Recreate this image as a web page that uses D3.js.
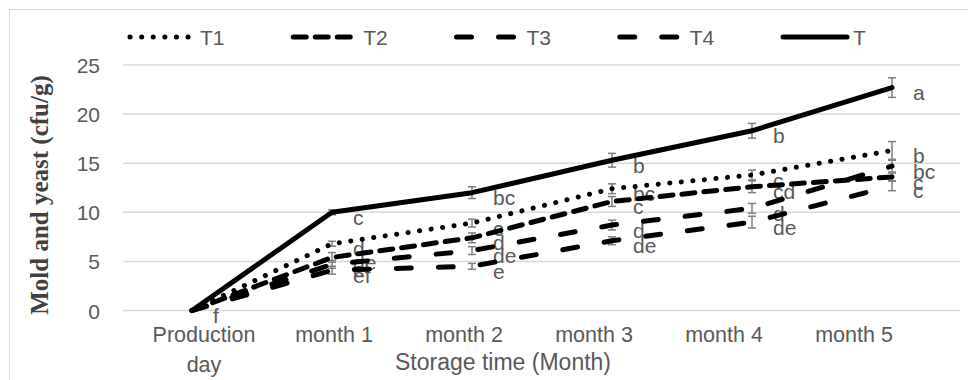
<!DOCTYPE html>
<html>
<head>
<meta charset="utf-8">
<script src="https://cdn.jsdelivr.net/npm/d3@7"></script>
<style>
  html, body { margin: 0; padding: 0; background: #fff; }
  svg { display: block; }
</style>
</head>
<body>
<svg id="chart" width="968" height="380"></svg>
<script>
// Storage time categories
const categories = ["Production day", "month 1", "month 2", "month 3", "month 4", "month 5"];

// Mold and yeast counts (cfu/g) per treatment
const seriesNames = ["T1", "T2", "T3", "T4", "T"];
const valuesT1 = [0, 6.8, 8.9, 12.4, 13.8, 16.3];
const valuesT2 = [0, 5.4, 7.4, 11.1, 12.6, 13.6];
const valuesT3 = [0, 4.7, 6.1, 8.7, 10.4, 14.7];
const valuesT4 = [0, 4.1, 4.5, 7.1, 9.0, 12.7];
const valuesT  = [0, 10.0, 12.0, 15.3, 18.3, 22.7];

// Error bar half-lengths
const errT1 = [0, 0.25, 0.4, 0.5, 0.5, 0.9];
const errT2 = [0, 0.5, 0.5, 0.5, 0.6, 0.4];
const errT3 = [0, 0.4, 0.4, 0.5, 0.5, 0.6];
const errT4 = [0, 0.4, 0.3, 0.4, 0.6, 0.5];
const errT  = [0, 0.25, 0.6, 0.7, 0.75, 1.0];

// Significance letters
const lettersT1 = ["", "d", "c", "bc", "c", "b"];
const lettersT2 = ["", "de", "d", "c", "cd", "c"];
const lettersT3 = ["", "e", "de", "d", "d", "bc"];
const lettersT4 = ["", "ef", "e", "de", "de", "c"];
const lettersT  = ["f", "c", "bc", "b", "b", "a"];

const yTicks = [0, 5, 10, 15, 20, 25];

const series = [
  { name: "T1", values: valuesT1, err: errT1, letters: lettersT1, dash: "0.1 11.5" },
  { name: "T2", values: valuesT2, err: errT2, letters: lettersT2, dash: "13 9" },
  { name: "T3", values: valuesT3, err: errT3, letters: lettersT3, dash: "15 27" },
  { name: "T4", values: valuesT4, err: errT4, letters: lettersT4, dash: "15 27" },
  { name: "T",  values: valuesT,  err: errT,  letters: lettersT,  dash: null }
];

const svg = d3.select("#chart");
const textGray = "#595959";
const font = "'Liberation Sans', Arial, sans-serif";

// Chart frame
svg.append("rect")
  .attr("x", 9.5).attr("y", 9.5)
  .attr("width", 980).attr("height", 400)
  .attr("fill", "none").attr("stroke", "#d9d9d9").attr("stroke-width", 1);

const plotLeft = 123, plotRight = 960;
const x = d3.scalePoint().domain(categories).range([192, 892]);
const y = d3.scaleLinear().domain([0, 25]).range([310.5, 65]);

// Horizontal gridlines
svg.append("g").selectAll("line").data(yTicks).join("line")
  .attr("x1", plotLeft).attr("x2", plotRight)
  .attr("y1", d => y(d)).attr("y2", d => y(d))
  .attr("stroke", "#d9d9d9").attr("stroke-width", 1.5);

// Y axis tick labels
const yAxis = d3.axisLeft(y).tickValues(yTicks).tickSize(0).tickPadding(0);
const gy = svg.append("g").attr("transform", "translate(100,0)").call(yAxis);
gy.select(".domain").remove();
gy.selectAll("text")
  .attr("font-family", font).attr("font-size", 21).attr("fill", textGray)
  .attr("dy", "0.36em");

// X axis category labels (own spacing under the plot)
const xLabel = d3.scalePoint().domain(categories).range([204, 854]);
const gx = svg.append("g");
categories.forEach(c => {
  const words = c === "Production day" ? ["Production", "day"] : [c];
  const t = gx.append("text")
    .attr("x", xLabel(c)).attr("y", 342)
    .attr("text-anchor", "middle")
    .attr("font-family", font).attr("font-size", 21.5).attr("fill", textGray);
  words.forEach((w, i) => {
    t.append("tspan").attr("x", xLabel(c)).attr("dy", i === 0 ? 0 : 30).text(w);
  });
});

// Axis titles
svg.append("text")
  .attr("x", 503).attr("y", 370)
  .attr("text-anchor", "middle")
  .attr("font-family", font).attr("font-size", 23).attr("fill", textGray)
  .text("Storage time (Month)");

svg.append("text")
  .attr("transform", "translate(48,195) rotate(-90)")
  .attr("text-anchor", "middle")
  .attr("font-family", "'Liberation Serif', 'Times New Roman', serif")
  .attr("font-weight", "bold").attr("font-size", 25).attr("fill", "#404040")
  .text("Mold and yeast (cfu/g)");

// Error bars
const eb = svg.append("g").attr("stroke", "#7f7f7f").attr("stroke-width", 1.5);
series.forEach(s => {
  s.values.forEach((v, i) => {
    const e = s.err[i];
    if (!e) return;
    const cx = x(categories[i]);
    eb.append("line").attr("x1", cx).attr("x2", cx).attr("y1", y(v - e)).attr("y2", y(v + e));
    eb.append("line").attr("x1", cx - 4).attr("x2", cx + 4).attr("y1", y(v - e)).attr("y2", y(v - e));
    eb.append("line").attr("x1", cx - 4).attr("x2", cx + 4).attr("y1", y(v + e)).attr("y2", y(v + e));
  });
});

// Significance letters
const lab = svg.append("g")
  .attr("font-family", font).attr("font-size", 21).attr("fill", textGray);
series.forEach(s => {
  s.values.forEach((v, i) => {
    if (!s.letters[i]) return;
    lab.append("text")
      .attr("x", x(categories[i]) + 21)
      .attr("y", y(v) + 5)
      .attr("dy", "0.36em")
      .text(s.letters[i]);
  });
});

// Lines
const line = d3.line().x((d, i) => x(categories[i])).y(d => y(d));
series.forEach(s => {
  svg.append("path")
    .datum(s.values)
    .attr("d", line)
    .attr("fill", "none")
    .attr("stroke", "#000")
    .attr("stroke-width", 5)
    .attr("stroke-linecap", "round")
    .attr("stroke-linejoin", "round")
    .attr("stroke-dasharray", s.dash);
});

// Legend
const legendX = d3.scalePoint().domain(seriesNames).range([128, 781]);
const lg = svg.append("g");
series.forEach(s => {
  const lx = legendX(s.name);
  lg.append("line")
    .attr("x1", lx + 2).attr("x2", lx + 66)
    .attr("y1", 37).attr("y2", 37)
    .attr("stroke", "#000").attr("stroke-width", 5)
    .attr("stroke-linecap", "round")
    .attr("stroke-dasharray", s.dash);
  lg.append("text")
    .attr("x", lx + 72).attr("y", 37).attr("dy", "0.36em")
    .attr("font-family", font).attr("font-size", 21).attr("fill", textGray)
    .text(s.name);
});
</script>
</body>
</html>
